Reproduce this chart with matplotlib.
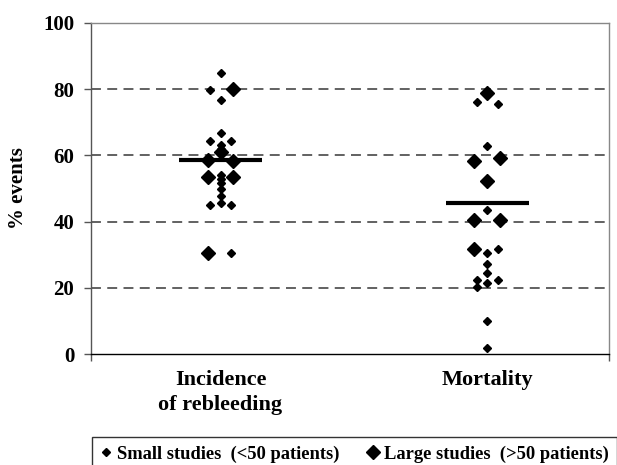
import matplotlib.pyplot as plt
from matplotlib.lines import Line2D

# categories and their centre positions on the x axis
categories = ['Incidence\nof rebleeding', 'Mortality']
cat_pos = [0.5, 1.53]

# % events per study; slot = -1 left, 0 centre, 1 right
small_rebleed = [85.0, 79.7, 76.8, 66.8, 64.5, 64.5, 63.0, 62.0, 54.1, 52.9,
                 51.7, 49.9, 47.6, 45.7, 44.9, 44.9, 30.4]
small_rebleed_slot = [0, -1, 0, 0, -1, 1, 0, 0, 0, 0, 0, 0, 0, 0, -1, 1, 1]
large_rebleed = [80.0, 61.0, 58.5, 58.2, 53.4, 53.4, 30.4]
large_rebleed_slot = [1, 0, -1, 1, -1, 1, -1]

small_mort = [76.1, 75.4, 62.7, 43.6, 31.6, 30.5, 27.2, 24.6, 22.3, 21.6,
              22.3, 20.1, 10.1, 1.9]
small_mort_slot = [-1, 1, 0, 0, 1, 0, 0, 0, -1, 0, 1, -1, 0, 0]
large_mort = [78.8, 58.3, 59.3, 52.4, 40.5, 40.5, 31.6]
large_mort_slot = [0, -1, 1, 0, -1, 1, -1]

means = [58.5, 45.6]

plt.rcParams['font.family'] = 'Liberation Serif'
plt.rcParams['font.weight'] = 'bold'

fig = plt.figure(figsize=(6.17, 4.65), dpi=100)
ax = fig.add_axes([91/617, 1 - 354/465, (609 - 91)/617, (354 - 23)/465])

small_kw = dict(marker='D', color='black', ms=3.6, linestyle='none', zorder=3)
large_kw = dict(marker='D', color='black', ms=7.3, linestyle='none', zorder=3)

groups = [(small_rebleed, small_rebleed_slot, large_rebleed, large_rebleed_slot),
          (small_mort, small_mort_slot, large_mort, large_mort_slot)]

for i, (sv, ss, lv, ls) in enumerate(groups):
    c = cat_pos[i]
    ax.plot([c + s * 0.04 for s in ss], sv, **small_kw)
    ax.plot([c + s * 0.05 for s in ls], lv, **large_kw)
    # mean line
    ax.plot([c - 0.16, c + 0.16], [means[i], means[i]], color='black', lw=3, zorder=4,
            solid_capstyle='butt')

ax.set_xlim(0, 2)
ax.set_ylim(0, 100)
ax.set_yticks([0, 20, 40, 60, 80, 100])
ax.tick_params(axis='y', direction='out', length=5, width=1, labelsize=15, pad=7, color='#555555')
ax.set_xticks([0, 2])
ax.set_xticklabels([])
ax.tick_params(axis='x', direction='out', length=5, width=1, color='#555555')

for y in [20, 40, 60, 80]:
    ax.axhline(y, color='#555555', lw=1.3, linestyle=(0, (5.5, 3.5)), zorder=1)

ax.spines['left'].set_color('#555555')
ax.spines['top'].set_color('#888888')
ax.spines['right'].set_color('#888888')
ax.spines['bottom'].set_color('black')
for s in ax.spines.values():
    s.set_linewidth(1.0)

ax.set_ylabel('% events', fontsize=15, fontweight='bold')
ax.yaxis.set_label_coords(-0.122, 0.5)

for c, lab in zip(cat_pos, categories):
    ax.text(c, -4.8, lab, ha='center', va='top', fontsize=16, fontweight='bold',
            linespacing=1.35, transform=ax.transData, clip_on=False)

handles = [Line2D([], [], marker='D', color='black', ms=3.6, linestyle='none'),
           Line2D([], [], marker='D', color='black', ms=7.3, linestyle='none')]
leg = fig.legend(handles, ['Small studies  (<50 patients)', 'Large studies  (>50 patients)'],
                 loc='upper left', bbox_to_anchor=(92/617, 1 - 437/465), ncol=2,
                 frameon=True, fancybox=False, edgecolor='black', borderaxespad=0,
                 prop={'family': 'Liberation Serif', 'weight': 'bold', 'size': 13.3},
                 handlelength=0.6, handletextpad=0.3, columnspacing=1.5,
                 borderpad=0.45)
leg.get_frame().set_linewidth(1.0)

fig.savefig('out.png', dpi=100)
